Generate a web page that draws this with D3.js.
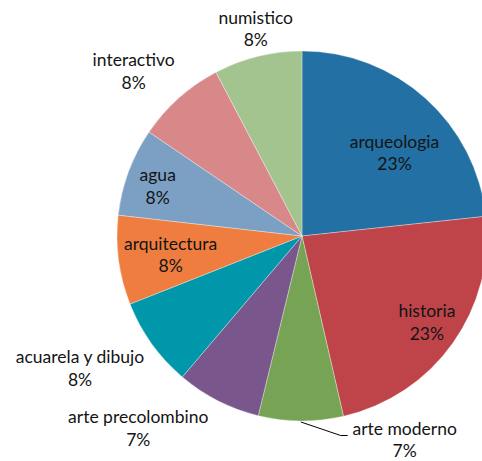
<!DOCTYPE html>
<html>
<head>
<meta charset="utf-8">
<script src="https://cdn.jsdelivr.net/npm/d3@7/dist/d3.min.js"></script>
<style>
  html, body { margin: 0; padding: 0; background: #fff; }
  svg { display: block; }
  text { font-family: Lato, "Open Sans", sans-serif; font-size: 17.5px; fill: #141414; }
</style>
</head>
<body>
<svg id="chart" width="482" height="461"></svg>
<script>
// Visitors by collection theme (share of total), clockwise from 12 o'clock
const categories = ["arqueologia", "historia", "arte moderno", "arte precolombino",
  "acuarela y dibujo", "arquitectura", "agua", "interactivo", "numistico"];
const values = [23.3, 23.1, 7.4, 7.4, 7.8, 7.8, 7.7, 7.8, 7.7];
const colors = ["#2270a4", "#bf444a", "#76a354", "#79568c", "#0097ab",
  "#ef7d3f", "#7ba0c4", "#d9888a", "#a3c48e"];

// Label anchors in units of the pie radius, relative to the centre
const labelAnchor = {
  "arqueologia": [0.50, -0.45],
  "historia": [0.675, 0.465],
  "arte moderno": [0.555, 1.10],
  "arte precolombino": [-0.885, 1.04],
  "acuarela y dibujo": [-1.2, 0.715],
  "arquitectura": [-0.71, 0.10],
  "agua": [-0.78, -0.27],
  "interactivo": [-0.91, -0.89],
  "numistico": [-0.25, -1.12]
};
const leaderSlices = new Set(["arte moderno"]);

const svg = d3.select("#chart");
const cx = 302, cy = 236, r = 185;
const g = svg.append("g").attr("transform", `translate(${cx},${cy})`);

const total = d3.sum(values);
const data = categories.map((c, i) => ({ name: c, value: values[i], color: colors[i] }));

const pie = d3.pie().value(d => d.value).sort(null);
const arc = d3.arc().innerRadius(0).outerRadius(r);
const arcs = pie(data);

g.selectAll("path.slice")
  .data(arcs)
  .join("path")
  .attr("class", "slice")
  .attr("d", arc)
  .attr("fill", d => d.data.color)
  .attr("stroke", "rgba(255,255,255,0.55)")
  .attr("stroke-width", 0.6);

// Leader lines for labels placed away from their slice
arcs.filter(d => leaderSlices.has(d.data.name)).forEach(d => {
  const mid = (d.startAngle + d.endAngle) / 2;
  const sx = Math.sin(mid) * r, sy = -Math.cos(mid) * r;
  const [ax, ay] = labelAnchor[d.data.name];
  const lx = ax * r, ly = ay * r;
  const textLeft = lx - 55;
  g.append("polyline")
    .attr("points", [[sx, sy + 1], [textLeft - 9, ly - 4], [textLeft - 2, ly - 4]].map(p => p.join(",")).join(" "))
    .attr("fill", "none")
    .attr("stroke", "#000")
    .attr("stroke-width", 1);
});

const labels = g.selectAll("text.lbl")
  .data(arcs)
  .join("text")
  .attr("class", "lbl")
  .attr("text-anchor", "middle")
  .attr("transform", d => {
    const [ax, ay] = labelAnchor[d.data.name];
    return `translate(${ax * r},${ay * r})`;
  });

labels.append("tspan")
  .attr("x", 0)
  .attr("y", -5)
  .text(d => d.data.name);
labels.append("tspan")
  .attr("x", 0)
  .attr("y", 17.5)
  .text(d => Math.round(d.data.value / total * 100) + "%");
</script>
</body>
</html>
